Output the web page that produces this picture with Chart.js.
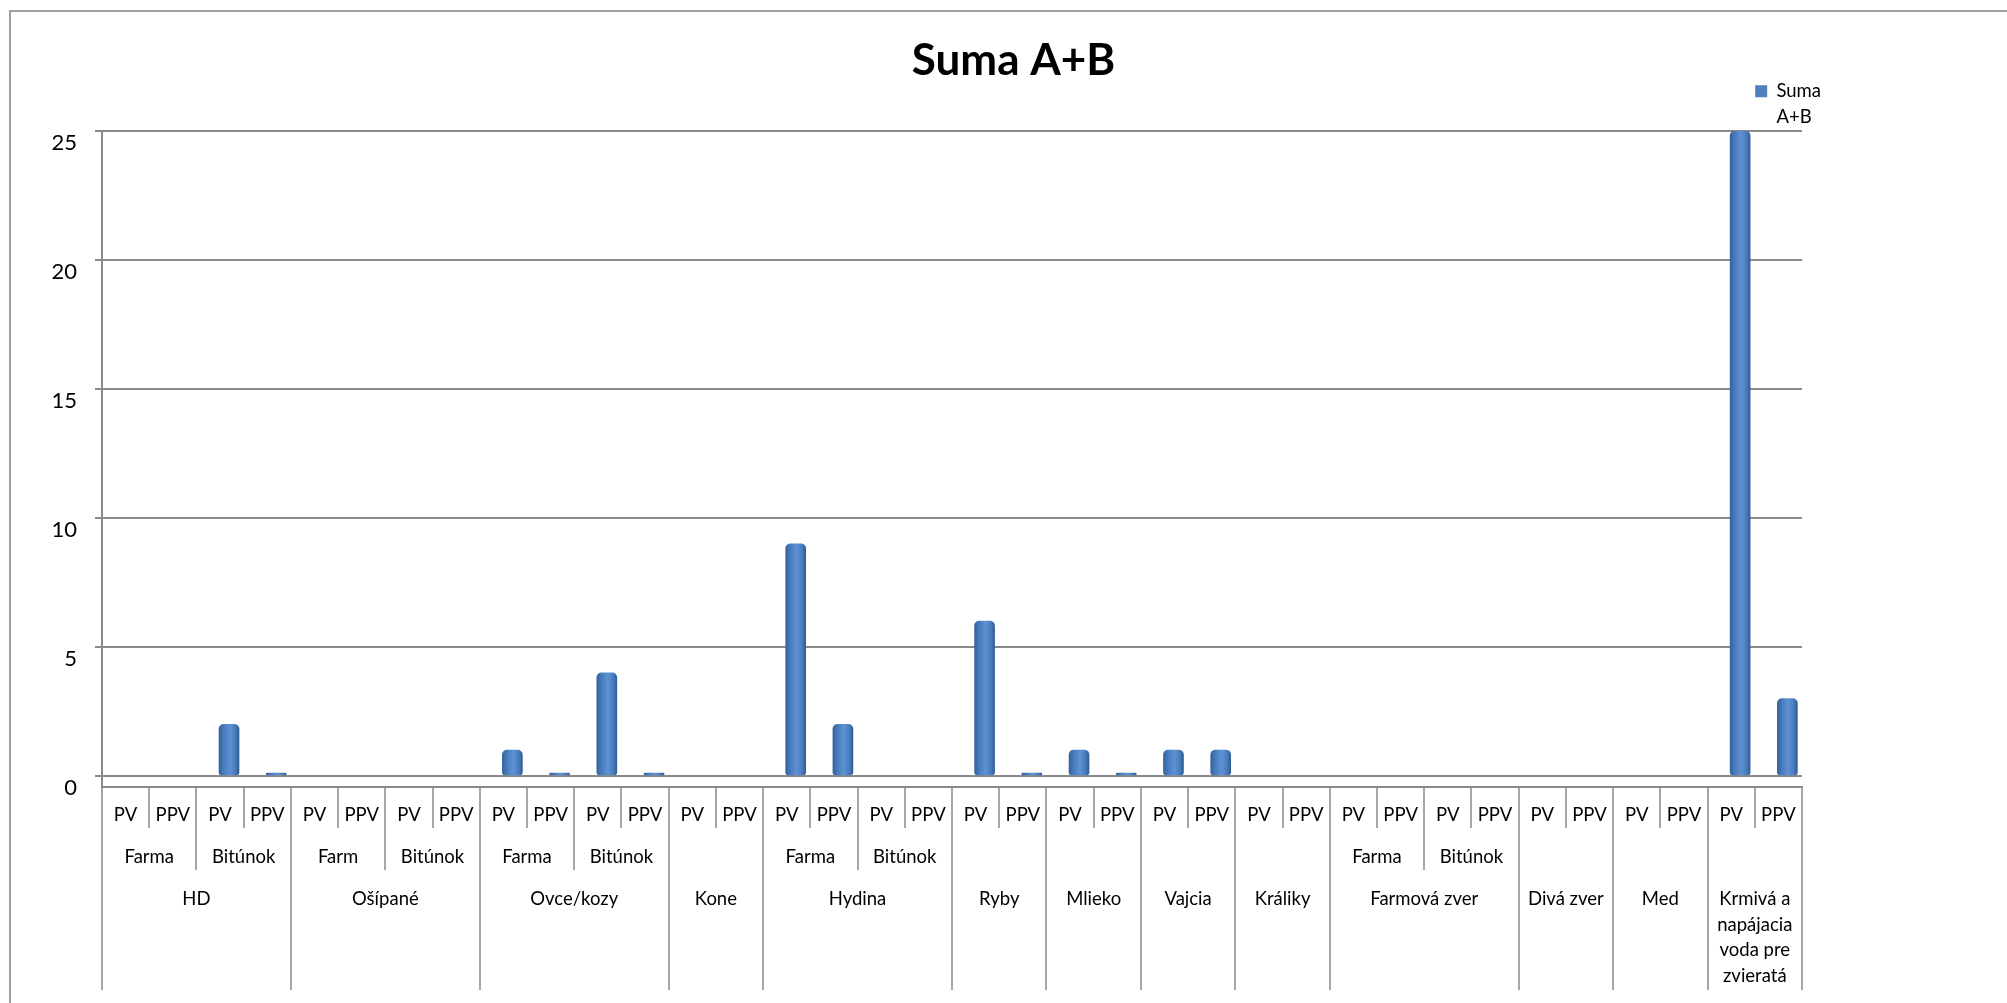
<!DOCTYPE html>
<html>
<head>
<meta charset="utf-8">
<script src="https://cdn.jsdelivr.net/npm/chart.js@4.4.1/dist/chart.umd.min.js"></script>
<style>
html,body{margin:0;padding:0;background:#fff;}
#wrap{position:relative;width:2007px;height:1003px;overflow:hidden;background:#fff;}
#frame{position:absolute;left:9px;top:10px;width:2200px;height:1200px;border-left:2px solid #a0a0a0;border-top:2px solid #a0a0a0;box-sizing:border-box;pointer-events:none;}
canvas{position:absolute;left:0;top:0;}
</style>
</head>
<body>
<div id="wrap"><canvas id="c" width="2007" height="1003"></canvas><div id="frame"></div></div>
<script>
// ---------- DATA ----------
const chartTitle = 'Suma A+B';
const seriesName = 'Suma A+B';
const groupNames = ['HD', 'Ošípané', 'Ovce/kozy', 'Kone', 'Hydina', 'Ryby', 'Mlieko', 'Vajcia', 'Králiky', 'Farmová zver', 'Divá zver', 'Med', 'Krmivá a napájacia voda pre zvieratá'];
const subgroupNames = [['Farma', 'Bitúnok'], ['Farm', 'Bitúnok'], ['Farma', 'Bitúnok'], [''], ['Farma', 'Bitúnok'], [''], [''], [''], [''], ['Farma', 'Bitúnok'], [''], [''], ['']];
const leafNames = ['PV', 'PPV'];
const values = [
  null, null, 2, 0,        // HD
  null, null, null, null,  // Ošípané
  1, 0, 4, 0,              // Ovce/kozy
  null, null,              // Kone
  9, 2, null, null,        // Hydina
  6, 0,                    // Ryby
  1, 0,                    // Mlieko
  1, 1,                    // Vajcia
  null, null,              // Králiky
  null, null, null, null,  // Farmová zver
  null, null,              // Divá zver
  null, null,              // Med
  25, 3                    // Krmivá a napájacia voda pre zvieratá
];
const yMin = 0, yMax = 25, yStep = 5;

// ---------- BUILD HIERARCHY ----------
const leafLabels = [];
const level2Ranges = [];
const level3Ranges = [];
let idx = 0;
groupNames.forEach((g, gi) => {
  const gStart = idx;
  subgroupNames[gi].forEach(s => {
    const sStart = idx;
    leafNames.forEach(l => { leafLabels.push(l); idx++; });
    level2Ranges.push({ label: s, start: sStart, end: idx - 1 });
  });
  level3Ranges.push({ label: g, start: gStart, end: idx - 1 });
});
const nCat = leafLabels.length;

function buildLevelTicks(ranges) {
  const boundaries = new Set();
  const labels = new Map();
  ranges.forEach(r => {
    boundaries.add(r.start - 0.5);
    boundaries.add(r.end + 0.5);
    if (r.label) labels.set((r.start + r.end) / 2, r);
  });
  const list = [...boundaries].concat([...labels.keys()]).sort((a, b) => a - b);
  return { boundaries, labels, list };
}
const lvl2 = buildLevelTicks(level2Ranges);
const lvl3 = buildLevelTicks(level3Ranges);

// ---------- STYLE ----------
const FONT = 'Lato, "Open Sans", "Liberation Sans", sans-serif';
const LABEL_SIZE = 18.5;
const gridGray = '#8a8a8a';
const sepGray = '#a6a6a6';
const measureCtx = document.createElement('canvas').getContext('2d');
function wrapText(text, maxWidth, fontSpec) {
  measureCtx.font = fontSpec;
  const words = text.split(' ');
  const lines = [];
  let cur = '';
  words.forEach(w => {
    const test = cur ? cur + ' ' + w : w;
    if (cur && measureCtx.measureText(test).width > maxWidth) { lines.push(cur); cur = w; }
    else cur = test;
  });
  if (cur) lines.push(cur);
  return lines.length === 1 ? lines[0] : lines;
}

function barGradient(ctx) {
  const chart = ctx.chart;
  const xs = chart.scales.xb;
  if (ctx.type !== 'data' || !xs || !ctx.parsed) return '#4F81BD';
  const cx = xs.getPixelForValue(ctx.parsed.x);
  const half = 10;
  const g = chart.ctx.createLinearGradient(cx - half, 0, cx + half, 0);
  g.addColorStop(0, '#35639c');
  g.addColorStop(0.25, '#4a7dbf');
  g.addColorStop(0.55, '#5f92d4');
  g.addColorStop(0.8, '#4b7ec0');
  g.addColorStop(1, '#325d94');
  return g;
}

const depthShift = 0.19;     // 3D depth offset of the cylinders relative to the front axis
const legendOverhang = 19;   // legend text runs a little past the plot's right edge

// Chart.js measures a multi-line legend text as one joined string and sizes the box for one line;
// correct the legend box so that the wrapped label sits and shows like the original.
const legendFix = {
  id: 'legendFix',
  afterLayout(chart) {
    const lg = chart.legend;
    if (!lg || !lg.legendItems || !lg.legendItems.length) return;
    const item = lg.legendItems[0];
    if (!Array.isArray(item.text)) return;
    measureCtx.font = LABEL_SIZE + 'px ' + FONT;
    const joined = measureCtx.measureText(String(item.text)).width;
    const longest = Math.max(...item.text.map(t => measureCtx.measureText(t).width));
    const dx = joined - longest + legendOverhang;
    lg.left += dx;
    lg.right += dx;
    lg.bottom = Math.max(lg.bottom, chart.chartArea.top);
    lg.height = lg.bottom - lg.top;
  }
};

function levelAxis(level, weight, tickLen, pad, lineH) {
  return {
    type: 'linear',
    position: 'bottom',
    weight: weight,
    min: -0.5,
    max: nCat - 0.5,
    bounds: 'data',
    offset: false,
    afterBuildTicks: (scale) => { scale.ticks = level.list.map(v => ({ value: v })); },
    afterFit: (scale) => { scale.height = tickLen; },
    grid: {
      offset: false,
      drawOnChartArea: false,
      drawTicks: true,
      tickLength: tickLen,
      lineWidth: 2,
      color: (c) => (c.tick && level.boundaries.has(c.tick.value)) ? sepGray : 'rgba(0,0,0,0)'
    },
    border: { display: false },
    ticks: {
      autoSkip: false,
      maxRotation: 0,
      minRotation: 0,
      padding: pad,
      color: '#000',
      font: { family: FONT, size: LABEL_SIZE, lineHeight: lineH },
      callback: function (v) {
        const r = level.labels.get(v);
        if (!r) return '';
        const span = (r.end - r.start + 1) * this.width / nCat - 10;
        return wrapText(r.label, span, LABEL_SIZE + 'px ' + FONT);
      }
    }
  };
}

const config = {
  type: 'bar',
  data: {
    datasets: [{
      label: seriesName,
      data: values.map((v, i) => ({ x: i, y: v })),
      xAxisID: 'xb',
      yAxisID: 'y',
      backgroundColor: barGradient,
      borderWidth: 0,
      borderRadius: { topLeft: 5, topRight: 5, bottomLeft: 3, bottomRight: 3 },
      borderSkipped: false,
      barThickness: 20,
      minBarLength: 3
    }]
  },
  plugins: [legendFix],
  options: {
    responsive: false,
    animation: false,
    devicePixelRatio: 1,
    layout: { padding: { left: 20, right: 0, top: 0, bottom: 13 } },
    plugins: {
      title: {
        display: true,
        text: chartTitle,
        color: '#000',
        font: { family: FONT, size: 44, weight: 'bold', lineHeight: 1.0 },
        padding: { top: 39, bottom: -1 }
      },
      legend: {
        display: true,
        position: 'top',
        align: 'end',
        fullSize: false,
        labels: {
          boxWidth: 12,
          boxHeight: 12,
          padding: 0,
          color: '#000',
          font: { family: FONT, size: LABEL_SIZE, lineHeight: '26px' },
          generateLabels: (chart) => chart.data.datasets.map((ds, i) => ({
            text: wrapText(ds.label, 50, LABEL_SIZE + 'px ' + FONT),
            fillStyle: '#4F81BD',
            strokeStyle: '#4F81BD',
            lineWidth: 0,
            hidden: false,
            datasetIndex: i,
            fontColor: '#000'
          }))
        }
      },
      tooltip: { enabled: false }
    },
    scales: {
      y: {
        type: 'linear',
        position: 'left',
        min: yMin,
        max: yMax,
        afterFit: (s) => { s.width = 82; },
        ticks: {
          stepSize: yStep,
          padding: 18,
          labelOffset: 12,
          color: '#000',
          font: { family: FONT, size: 22 }
        },
        grid: { color: gridGray, lineWidth: 2, tickLength: 7, drawTicks: true },
        border: { color: gridGray, width: 2 }
      },
      yr: {
        type: 'linear',
        position: 'right',
        display: true,
        afterFit: (s) => { s.width = 205; },
        ticks: { display: false },
        grid: { display: false },
        border: { display: false }
      },
      xt: {
        type: 'linear',
        position: 'top',
        display: true,
        afterFit: (s) => { s.height = 20.5; },
        ticks: { display: false },
        grid: { display: false },
        border: { display: false }
      },
      xb: {
        type: 'linear',
        display: false,
        min: -0.5 - depthShift,
        max: nCat - 0.5 - depthShift,
        bounds: 'data',
        offset: false,
        grid: { offset: false }
      },
      xs: {
        type: 'linear',
        position: 'bottom',
        weight: 0,
        min: -0.5,
        max: nCat - 0.5,
        bounds: 'data',
        offset: false,
        afterBuildTicks: (scale) => { scale.ticks = [{ value: -0.5 }]; },
        afterFit: (scale) => { scale.height = 11; },
        grid: { offset: false, drawOnChartArea: false, tickLength: 11, color: gridGray, lineWidth: 2 },
        border: { display: false },
        ticks: { callback: () => '', padding: 0, font: { size: 1 } }
      },
      x: {
        type: 'category',
        position: 'bottom',
        weight: 1,
        labels: leafLabels,
        offset: true,
        afterFit: (scale) => { scale.height = 41; },
        grid: { offset: true, drawOnChartArea: false, drawTicks: true, tickLength: 41, color: sepGray, lineWidth: 2 },
        border: { display: true, color: gridGray, width: 2 },
        ticks: {
          autoSkip: false, maxRotation: 0, minRotation: 0,
          padding: -24, color: '#000',
          font: { family: FONT, size: LABEL_SIZE }
        }
      },
      x2: levelAxis(lvl2, 2, 42, -24, 1.2),
      x3: levelAxis(lvl3, 3, 120, -104, '25.7px')
    }
  }
};

new Chart(document.getElementById('c'), config);
</script>
</body>
</html>
